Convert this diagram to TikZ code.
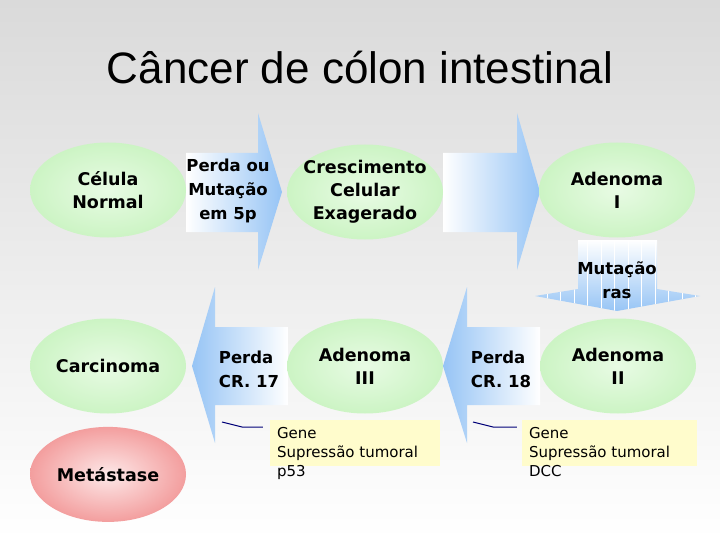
\documentclass[tikz,border=0pt]{standalone}
\usepackage{fontspec}
\setmainfont{Liberation Sans}
\newfontfamily\cellfont{DejaVu Sans}
\usepackage{xcolor}
\usepackage{tikz}
\usetikzlibrary{positioning,shapes.geometric}

\definecolor{bggray}{RGB}{218,218,218}
\definecolor{cellgreen}{RGB}{204,244,196}
\definecolor{cellgreenin}{RGB}{232,251,228}
\definecolor{cellred}{RGB}{243,158,158}
\definecolor{cellredin}{RGB}{253,232,232}
\definecolor{arrowblue}{RGB}{150,196,245}
\definecolor{noteyellow}{RGB}{255,252,204}
\definecolor{calloutblue}{RGB}{0,0,120}

\begin{document}
\begin{tikzpicture}[
    x=1pt, y=-1pt,
    cell/.style={
        ellipse,
        inner color=cellgreenin,
        outer color=cellgreen,
        minimum width=156pt,
        minimum height=95pt,
        inner xsep=-7pt,
        inner ysep=0pt,
        align=center,
        font=\cellfont\bfseries\fontsize{17.5}{23}\selectfont
    },
    redcell/.style={
        cell,
        inner color=cellredin,
        outer color=cellred
    },
    steplabel/.style={
        inner sep=0pt,
        font=\cellfont\bfseries\fontsize{16.5}{24}\selectfont
    },
    rightarrow/.style={
        left color=white,
        right color=arrowblue
    },
    leftarrow/.style={
        left color=arrowblue,
        right color=white
    },
    notebox/.style={
        rectangle,
        fill=noteyellow,
        minimum width=170pt,
        minimum height=46pt
    },
    notetext/.style={
        inner sep=0pt,
        align=left,
        font=\cellfont\fontsize{15}{19}\selectfont
    },
    callout/.style={
        draw=calloutblue,
        line width=1pt
    }
]

% ---------------- BACKGROUND ----------------
\shade[top color=bggray, bottom color=white] (0,0) rectangle (720,540);

% ---------------- TITLE ----------------
\node[anchor=base, font=\fontsize{44}{48}\selectfont] (title) at (360,84)
    {Câncer de cólon intestinal};

% ---------------- BLOCK ARROWS ----------------
\shade[rightarrow] (186,153) -- (258,153) -- (258,113) -- (282,192)
    -- (258,270) -- (258,232) -- (186,232) -- cycle;
\shade[rightarrow] (443,153) -- (517,153) -- (517,113) -- (540,192)
    -- (517,270) -- (517,232) -- (443,232) -- cycle;
\shade[leftarrow] (288,327) -- (215,327) -- (215,287) -- (192,366)
    -- (215,443) -- (215,405) -- (288,405) -- cycle;
\shade[leftarrow] (540,327) -- (467,327) -- (467,287) -- (443,366)
    -- (467,443) -- (467,405) -- (540,405) -- cycle;

% down arrow with stripes
\begin{scope}
    \path[clip] (578,240) -- (657,240) -- (657,289) -- (700,296)
        -- (617,311) -- (535,296) -- (578,289) -- cycle;
    \shade[top color=white, bottom color=arrowblue] (530,240) rectangle (705,312);
    \foreach \sx in {547,560.5,...,700}
        \draw[white, line width=1pt] (\sx,240) -- (\sx,312);
\end{scope}

% ---------------- CELLS ----------------
\node[cell] (normal) at (108,190) {Célula\\Normal};
\node[cell] (growth) at (365,192) {Crescimento\\Celular\\Exagerado};
\node[cell] (adenomaI) at (617,190) {Adenoma\\I};
\node[cell] (adenomaII) at (618,366) {Adenoma\\II};
\node[cell] (adenomaIII) at (365,366) {Adenoma\\III};
\node[cell] (carcinoma) at (108,366) {Carcinoma};
\node[redcell, below=13pt of carcinoma] (metastase) {Metástase};

% ---------------- STEP LABELS ----------------
\node[steplabel, align=center] (loss5p) at (228,191) {Perda ou\\Mutação\\em 5p};
\node[steplabel, align=center] (ras) at (617,280) {Mutação\\ras};
\node[steplabel, align=left] (loss18) at (501,369) {Perda\\CR. 18};
\node[steplabel, align=left] (loss17) at (249,369) {Perda\\CR. 17};

% ---------------- NOTES ----------------
\node[notebox] (p53box) at (355,443) {};
\node[notetext, anchor=north west] (p53) at ([shift={(7,7)}]p53box.north west)
    {Gene\\Supressão tumoral\\p53};
\node[notebox, minimum width=175pt] (dccbox) at (609.5,443) {};
\node[notetext, anchor=north west] (dcc) at ([shift={(7,7)}]dccbox.north west)
    {Gene\\Supressão tumoral\\DCC};

% ---------------- CALLOUTS ----------------
\coordinate (pin17) at (222,422);
\coordinate (pin18) at (473,422);
\draw[callout] (pin17) -- ++(20,5) -- ([xshift=-7pt]p53box.west |- {0,427});
\draw[callout] (pin18) -- ++(20,5) -- ([xshift=-5pt]dccbox.west |- {0,427});

\end{tikzpicture}
\end{document}
